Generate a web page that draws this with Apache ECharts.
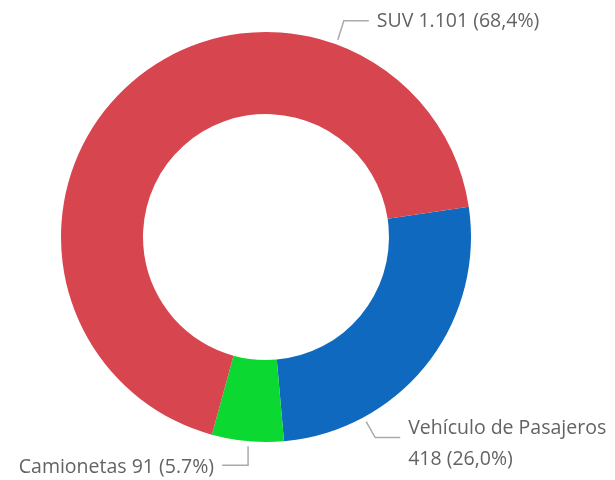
<!DOCTYPE html>
<html style="height: 100%">
	<head>
		<meta charset="utf-8">
	</head>
	<body style="height: 100%; margin: 0; background: #fff">
		<div id="container" style="height: 100%"></div>

		<script type="text/javascript" src="https://cdn.jsdelivr.net/npm/echarts@6/dist/echarts.min.js"></script>
		<script type="text/javascript">
			var dom = document.getElementById("container");
			var myChart = echarts.init(dom);

			// clockwise order from the right side
			const categories = ['Vehículo de Pasajeros', 'Camionetas', 'SUV'];
			const values = [418, 91, 1101];
			const percentLabels = ['26,0%', '5.7%', '68,4%'];
			const valueLabels = ['418', '91', '1.101'];
			const colors = ['#0e69bf', '#0bd831', '#d7464f'];

			const cx = 266, cy = 237, rOuter = 205, rInner = 123;

			// where each label line leaves the ring (degrees, ccw from 3 o'clock) and how it bends
			const labelSpots = [
				{ angle: -61.5, dx: 9, dy: 16, len: 25, side: 'right', y: 444 },
				{ angle: -94.9, dx: 0, dy: 19, len: -26, side: 'left', y: 467 },
				{ angle: 70, dx: 6, dy: -19, len: 25, side: 'right', y: 21 }
			];

			const pieData = categories.map(function (name, i) {
				var text = i === 0
					? name + '\n' + valueLabels[i] + ' (' + percentLabels[i] + ')'
					: name + ' ' + valueLabels[i] + ' (' + percentLabels[i] + ')';
				return {
					name: name,
					value: values[i],
					itemStyle: { color: colors[i] },
					label: { formatter: text }
				};
			});

			var option = {
				animation: false,
				series: [{
					type: 'pie',
					center: [cx, cy],
					radius: [rInner, rOuter],
					startAngle: 8.5,
					clockwise: true,
					data: pieData,
					label: {
						show: true,
						position: 'outside',
						color: '#636363',
						fontSize: 19.5,
						fontFamily: 'Open Sans',
						lineHeight: 31,
						overflow: 'none'
					},
					labelLine: {
						show: true,
						lineStyle: { color: '#aaaaaa', width: 1.5 }
					},
					labelLayout: function (params) {
						var s = labelSpots[params.dataIndex];
						var a = s.angle * Math.PI / 180;
						var p1 = [cx + (rOuter + 5) * Math.cos(a), cy - (rOuter + 5) * Math.sin(a)];
						var p2 = [p1[0] + s.dx, p1[1] + s.dy];
						var p3 = [p2[0] + s.len, p2[1]];
						return {
							x: s.side === 'right' ? p3[0] + 8 : p3[0] - 8,
							y: s.y,
							align: s.side === 'right' ? 'left' : 'right',
							verticalAlign: 'middle',
							labelLinePoints: [p1, p2, p3]
						};
					}
				}]
			};

			if (option && typeof option === 'object') {
				myChart.setOption(option);
			}
		</script>
	</body>
</html>
